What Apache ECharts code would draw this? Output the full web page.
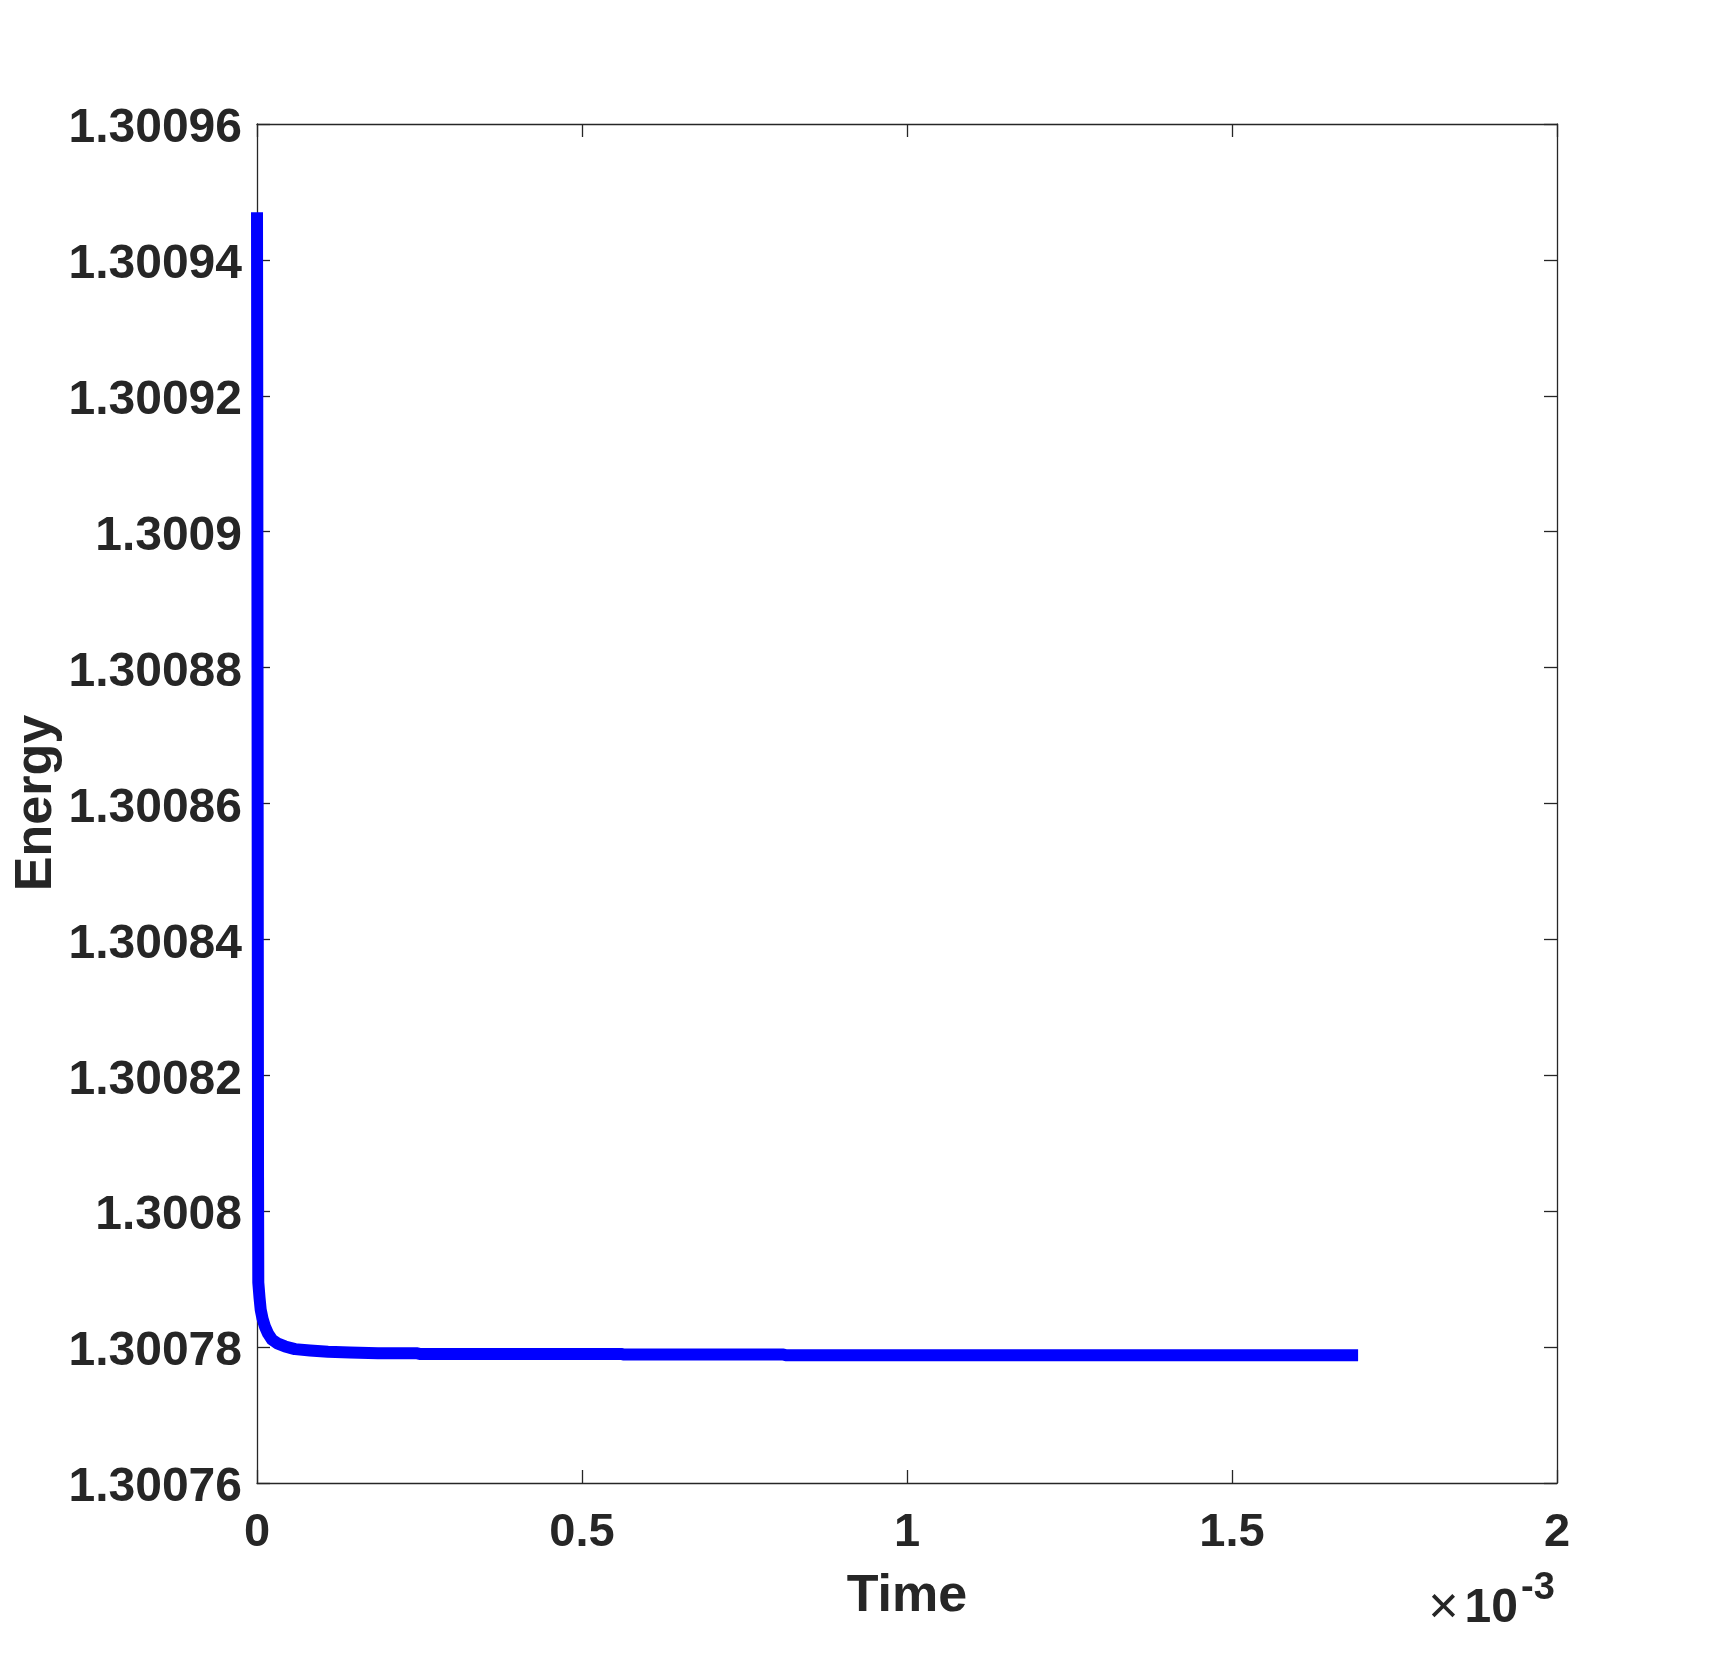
<!DOCTYPE html>
<html>
<head>
<meta charset="utf-8">
<script src="https://cdn.jsdelivr.net/npm/echarts@6/dist/echarts.min.js"></script>
<style>
html,body{margin:0;padding:0;background:#fff;}
#chart{width:1720px;height:1668px;}
</style>
</head>
<body>
<div id="chart"></div>
<script>
// Time in units of 1e-3
const timeVals = [0, 0.0004, 0.0008, 0.0012, 0.0016, 0.002, 0.00385, 0.0057, 0.00846, 0.0123, 0.0169, 0.0231, 0.0323, 0.0431, 0.0585, 0.0815, 0.1092, 0.143, 0.186, 0.245, 0.25, 0.56, 0.565, 0.81, 0.815, 1.694];
const energyVals = [1.300947, 1.30092, 1.30088, 1.30084, 1.300805, 1.3007895, 1.3007873, 1.3007855, 1.3007842, 1.300783, 1.300782, 1.3007811, 1.3007805, 1.3007801, 1.3007797, 1.3007795, 1.3007793, 1.3007792, 1.3007791, 1.3007791, 1.300779, 1.300779, 1.3007789, 1.3007789, 1.3007788, 1.3007788];
const xTickLabels = ['0', '0.5', '1', '1.5', '2'];
const yTickLabels = ['1.30076', '1.30078', '1.3008', '1.30082', '1.30084', '1.30086', '1.30088', '1.3009', '1.30092', '1.30094', '1.30096'];
const xMin = 0, xMax = 2, xStep = 0.5;
const yMin = 1.30076, yMax = 1.30096, yStep = 0.00002;

const txt = '#262626';
const fam = "'Liberation Sans', Arial, Helvetica, sans-serif";
const chart = echarts.init(document.getElementById('chart'), null, {renderer: 'canvas'});
const data = timeVals.map((t, i) => [t, energyVals[i]]);
const xFmt = v => xTickLabels[Math.round((v - xMin) / xStep)] || '';
const yFmt = v => '{v|' + (yTickLabels[Math.round((v - yMin) / yStep)] || '') + '}';
const axisCommon = {
  axisLine: {show: true, onZero: false, lineStyle: {color: txt, width: 1.3}},
  axisTick: {show: true, inside: true, length: 13, lineStyle: {color: txt, width: 1.3}},
  splitLine: {show: false}
};
chart.setOption({
  animation: false,
  backgroundColor: '#fff',
  grid: {left: 257, right: 163, top: 124, bottom: 185, containLabel: false},
  xAxis: [
    Object.assign({type: 'value', position: 'bottom', min: xMin, max: xMax, interval: xStep,
      axisLabel: {show: true, formatter: xFmt, color: txt, fontSize: 47, fontWeight: 'bold', fontFamily: fam, margin: 27}}, axisCommon),
    Object.assign({type: 'value', position: 'top', min: xMin, max: xMax, interval: xStep,
      axisLabel: {show: false}}, axisCommon)
  ],
  yAxis: [
    Object.assign({type: 'value', position: 'left', min: yMin, max: yMax, interval: yStep,
      axisLabel: {show: true, formatter: yFmt, margin: 15,
        rich: {v: {color: txt, fontSize: 48, fontWeight: 'bold', fontFamily: fam, padding: [10, 0, 0, 0]}}}}, axisCommon),
    Object.assign({type: 'value', position: 'right', min: yMin, max: yMax, interval: yStep,
      axisLabel: {show: false}}, axisCommon)
  ],
  series: [{
    type: 'line',
    data: data,
    xAxisIndex: 0, yAxisIndex: 0,
    showSymbol: false,
    symbol: 'none',
    lineStyle: {color: '#0000ff', width: 12, cap: 'butt', join: 'round'},
    z: 3
  }],
  graphic: [
    {type: 'text', x: 37, y: 803, rotation: Math.PI / 2,
      style: {text: 'Energy', fill: txt, font: "bold 52px " + fam, textAlign: 'center', textVerticalAlign: 'middle'}},
    {type: 'text', x: 907, y: 1597,
      style: {text: 'Time', fill: txt, font: "bold 52px " + fam, textAlign: 'center', textVerticalAlign: 'middle'}},
    {type: 'text', x: 1518, y: 1609,
      style: {text: '{m|×}{b|10}', textAlign: 'right', textVerticalAlign: 'middle',
        rich: {m: {fill: txt, fontSize: 52, fontWeight: 'normal', fontFamily: fam, padding: [0, 6, 0, 0]},
               b: {fill: txt, fontSize: 48, fontWeight: 'bold', fontFamily: fam}}}},
    {type: 'text', x: 1521, y: 1589,
      style: {text: '-3', fill: txt, font: "bold 38px " + fam, textAlign: 'left', textVerticalAlign: 'middle'}}
  ]
});
</script>
</body>
</html>
